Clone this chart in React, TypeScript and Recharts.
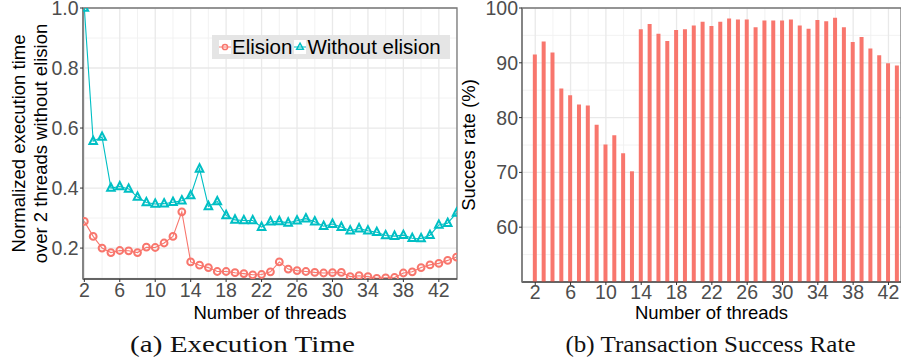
import React from 'react'
import { LineChart, Line, BarChart, Bar, XAxis, YAxis, CartesianGrid, Legend, ReferenceArea } from 'recharts'

const THREADS = [2, 3, 4, 5, 6, 7, 8, 9, 10, 11, 12, 13, 14, 15, 16, 17, 18, 19, 20, 21, 22, 23, 24, 25, 26, 27, 28, 29, 30, 31, 32, 33, 34, 35, 36, 37, 38, 39, 40, 41, 42, 43, 44]
const ELISION = [0.289, 0.239, 0.2, 0.185, 0.192, 0.191, 0.185, 0.203, 0.202, 0.217, 0.239, 0.321, 0.154, 0.143, 0.135, 0.122, 0.122, 0.118, 0.115, 0.111, 0.112, 0.121, 0.154, 0.13, 0.125, 0.122, 0.119, 0.117, 0.118, 0.119, 0.105, 0.108, 0.105, 0.099, 0.101, 0.102, 0.117, 0.121, 0.135, 0.144, 0.149, 0.159, 0.17]
const WITHOUT_ELISION = [1.0, 0.556, 0.57, 0.4, 0.405, 0.397, 0.37, 0.352, 0.347, 0.348, 0.353, 0.358, 0.375, 0.464, 0.339, 0.355, 0.309, 0.294, 0.292, 0.292, 0.27, 0.288, 0.289, 0.284, 0.291, 0.298, 0.288, 0.273, 0.28, 0.27, 0.258, 0.265, 0.258, 0.253, 0.242, 0.24, 0.243, 0.233, 0.232, 0.243, 0.277, 0.283, 0.317]

const RATE_THREADS = [2, 3, 4, 5, 6, 7, 8, 9, 10, 11, 12, 13, 14, 15, 16, 17, 18, 19, 20, 21, 22, 23, 24, 25, 26, 27, 28, 29, 30, 31, 32, 33, 34, 35, 36, 37, 38, 39, 40, 41, 42, 43]
const SUCCESS_RATE = [91.5, 93.9, 91.9, 85.3, 84.1, 82.4, 82.2, 78.7, 75.1, 76.8, 73.5, 70.2, 96.1, 97.1, 95.3, 94.0, 96.0, 96.1, 96.8, 97.5, 96.7, 97.5, 98.1, 97.9, 97.9, 96.5, 97.7, 97.7, 97.7, 97.9, 96.8, 96.2, 97.8, 97.6, 98.2, 96.5, 93.8, 94.7, 92.6, 91.4, 89.9, 89.5]

const X_TICKS = [2, 6, 10, 14, 18, 22, 26, 30, 34, 38, 42]
const X_MINOR = [4, 8, 12, 16, 20, 24, 28, 32, 36, 40, 44]
const TIME_TICKS = [0.2, 0.4, 0.6, 0.8, 1.0]
const TIME_MINOR = [0.1, 0.3, 0.5, 0.7, 0.9]
const RATE_TICKS = [60, 70, 80, 90, 100]
const RATE_MINOR = [55, 65, 75, 85, 95]

const RED = '#F8766D'
const CYAN = '#00BFC4'
const SANS = '"Liberation Sans", Arial, sans-serif'
const SERIF = '"Liberation Serif", "DejaVu Serif", serif'

const TIME_X_DOMAIN = [1.85, 44.05]
const TIME_Y_DOMAIN = [0.097, 1.0]
const RATE_X_DOMAIN = [0.5, 43.42]
const RATE_Y_DOMAIN = [50, 100]

const tickStyle = { fontFamily: SANS, fontSize: 19.5, fill: '#4d4d4d' }
const titleStyle = { fontFamily: SANS, fontSize: 18.5, fill: '#000' }

function CircleDot({ cx, cy }: any) {
  if (cx == null || cy == null) return null
  return <circle cx={cx} cy={cy} r={3.4} fill="none" stroke={RED} strokeWidth={2} />
}

function TriangleDot({ cx, cy }: any) {
  if (cx == null || cy == null) return null
  return (
    <path
      d={`M${cx},${cy - 4.6}L${cx + 3.8},${cy + 2.8}L${cx - 3.8},${cy + 2.8}Z`}
      fill="none"
      stroke={CYAN}
      strokeWidth={2}
    />
  )
}

function TimeLegend({ payload }: any) {
  return (
    <div
      style={{
        background: '#e5e5e5',
        width: 238,
        height: 24,
        display: 'flex',
        alignItems: 'center',
        fontFamily: SANS,
        fontSize: 20.5,
        color: '#000',
        whiteSpace: 'nowrap',
      }}
    >
      {(payload || []).map((entry: any, i: number) => (
        <span key={i} style={{ display: 'flex', alignItems: 'center' }}>
          <svg width={12} height={14} style={{ background: '#fff', marginLeft: i === 0 ? 7 : 2, marginRight: 1 }}>
            <line x1={0} y1={7} x2={12} y2={7} stroke={entry.color} strokeWidth={1} />
            {i === 0 ? (
              <circle cx={6} cy={7} r={2.6} fill="none" stroke={entry.color} strokeWidth={1.5} />
            ) : (
              <path d="M6,3.2L9.3,9.2L2.7,9.2Z" fill="none" stroke={entry.color} strokeWidth={1.5} />
            )}
          </svg>
          <span>{entry.value}</span>
        </span>
      ))}
    </div>
  )
}

function TimeYTitle({ viewBox }: any) {
  const cy = viewBox.y + viewBox.height / 2
  return (
    <g>
      <text x={25} y={cy} transform={`rotate(-90, 25, ${cy})`} textAnchor="middle" {...titleStyle}>
        Normalized execution time
      </text>
      <text x={46.5} y={cy} transform={`rotate(-90, 46.5, ${cy})`} textAnchor="middle" {...titleStyle}>
        over 2 threads without elision
      </text>
    </g>
  )
}

function RateYTitle({ viewBox }: any) {
  const cy = viewBox.y + viewBox.height / 2
  return (
    <text x={35} y={cy} transform={`rotate(-90, 35, ${cy})`} textAnchor="middle" {...titleStyle}>
      Succes rate (%)
    </text>
  )
}

function XTitle({ viewBox, dy }: any) {
  return (
    <text x={viewBox.x + viewBox.width / 2} y={viewBox.y + dy} textAnchor="middle" {...titleStyle}>
      Number of threads
    </text>
  )
}

function ExecutionTimeChart() {
  const data = THREADS.map((t, i) => ({ threads: t, elision: ELISION[i], without: WITHOUT_ELISION[i] }))
  return (
    <LineChart width={470} height={330} data={data} margin={{ top: 8, right: 13, bottom: 0, left: 0 }}>
      <CartesianGrid verticalValues={X_MINOR} horizontalValues={TIME_MINOR} stroke="#f0f0f0" strokeWidth={0.9} />
      <CartesianGrid verticalValues={X_TICKS} horizontalValues={TIME_TICKS} stroke="#e9e9e9" strokeWidth={1.3} />
      <XAxis
        dataKey="threads"
        type="number"
        domain={TIME_X_DOMAIN}
        allowDataOverflow
        ticks={X_TICKS}
        interval={0}
        height={51}
        tickSize={3}
        tickMargin={1}
        tick={tickStyle}
        tickLine={{ stroke: '#333' }}
        axisLine={{ stroke: '#333', strokeWidth: 1.1 }}
        label={(p: any) => <XTitle {...p} dy={39.5} />}
      />
      <YAxis
        type="number"
        domain={TIME_Y_DOMAIN}
        allowDataOverflow
        ticks={TIME_TICKS}
        interval={0}
        width={83}
        tickSize={3}
        tickMargin={1.5}
        tick={tickStyle}
        tickFormatter={(v: number) => v.toFixed(1)}
        tickLine={{ stroke: '#333' }}
        axisLine={{ stroke: '#777', strokeWidth: 1.4 }}
        label={(p: any) => <TimeYTitle {...p} />}
      />
      <ReferenceArea
        x1={TIME_X_DOMAIN[0]}
        x2={TIME_X_DOMAIN[1]}
        y1={TIME_Y_DOMAIN[0]}
        y2={TIME_Y_DOMAIN[1]}
        fill="none"
        stroke="#777"
        strokeWidth={1.3}
      />
      <Line
        type="linear"
        dataKey="elision"
        name="Elision"
        stroke={RED}
        strokeWidth={1.1}
        dot={(p: any) => <CircleDot key={p.index} {...p} />}
        isAnimationActive={false}
      />
      <Line
        type="linear"
        dataKey="without"
        name="Without elision"
        stroke={CYAN}
        strokeWidth={1.1}
        dot={(p: any) => <TriangleDot key={p.index} {...p} />}
        isAnimationActive={false}
      />
      <Legend
        layout="horizontal"
        verticalAlign="middle"
        align="center"
        content={(p: any) => <TimeLegend {...p} />}
        wrapperStyle={{ left: 212, top: 35, width: 238, height: 24 }}
      />
    </LineChart>
  )
}

function SuccessRateChart() {
  const data = RATE_THREADS.map((t, i) => ({ threads: t, rate: SUCCESS_RATE[i] }))
  return (
    <BarChart width={461} height={330} data={data} margin={{ top: 8, right: 0, bottom: 0, left: 0 }}>
      <CartesianGrid verticalValues={X_MINOR} horizontalValues={RATE_MINOR} stroke="#f0f0f0" strokeWidth={0.9} />
      <CartesianGrid verticalValues={X_TICKS} horizontalValues={RATE_TICKS} stroke="#e9e9e9" strokeWidth={1.3} />
      <XAxis
        dataKey="threads"
        type="number"
        domain={RATE_X_DOMAIN}
        allowDataOverflow
        ticks={X_TICKS}
        interval={0}
        height={48}
        tickSize={3}
        tickMargin={0.5}
        tick={tickStyle}
        tickLine={{ stroke: '#333' }}
        axisLine={{ stroke: '#333', strokeWidth: 1.1 }}
        label={(p: any) => <XTitle {...p} dy={37} />}
      />
      <YAxis
        type="number"
        domain={RATE_Y_DOMAIN}
        allowDataOverflow
        ticks={RATE_TICKS}
        interval={0}
        width={82}
        tickSize={3}
        tickMargin={1}
        tick={tickStyle}
        tickLine={{ stroke: '#333' }}
        axisLine={{ stroke: '#777', strokeWidth: 1.4 }}
        label={(p: any) => <RateYTitle {...p} />}
      />
      <ReferenceArea
        x1={RATE_X_DOMAIN[0]}
        x2={RATE_X_DOMAIN[1]}
        y1={RATE_Y_DOMAIN[0]}
        y2={RATE_Y_DOMAIN[1]}
        fill="none"
        stroke="#777"
        strokeWidth={1.3}
      />
      <Bar dataKey="rate" fill={RED} barSize={4} isAnimationActive={false} />
    </BarChart>
  )
}

export default function App() {
  return (
    <div style={{ position: 'absolute', left: 0, top: 0, width: 901, height: 360, background: '#fff', overflow: 'hidden' }}>
      <div style={{ position: 'absolute', left: 0, top: 0 }}>
        <ExecutionTimeChart />
      </div>
      <div style={{ position: 'absolute', left: 440, top: 0 }}>
        <SuccessRateChart />
      </div>
      <svg width={901} height={360} style={{ position: 'absolute', left: 0, top: 0, pointerEvents: 'none' }}>
        <text x={242.5} y={352} textAnchor="middle" fontFamily={SERIF} fontSize={22.5} fill="#111" textLength={225} lengthAdjust="spacingAndGlyphs">
          (a) Execution Time
        </text>
        <text x={710.5} y={352} textAnchor="middle" fontFamily={SERIF} fontSize={22.5} fill="#111" textLength={290} lengthAdjust="spacingAndGlyphs">
          (b) Transaction Success Rate
        </text>
      </svg>
    </div>
  )
}
